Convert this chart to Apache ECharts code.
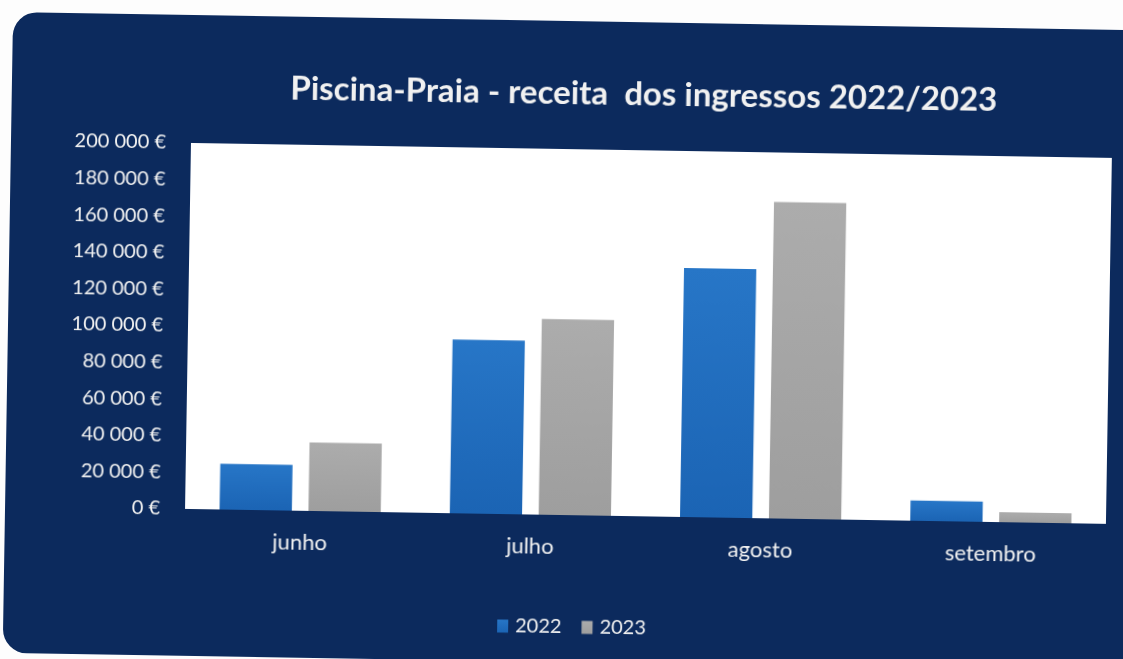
<!DOCTYPE html>
<html>
<head>
<meta charset="utf-8">
<script src="https://cdn.jsdelivr.net/npm/echarts@6/dist/echarts.min.js"></script>
<style>
  html, body { margin: 0; padding: 0; background: #fdfdfd; overflow: hidden; }
  /* the scan is slightly tilted, so the whole card is turned a little */
  .wrap {
    position: absolute; left: 0; top: 0; width: 1123px; height: 659px;
    transform: rotate(0.93deg); transform-origin: 50% 50%;
  }
  .card {
    position: absolute; left: 8px; top: 21px; width: 1150px; height: 641px;
    border-radius: 24px; background: #0c2a5d;
  }
  #chart { position: absolute; left: 0; top: 0; width: 1123px; height: 659px; }
</style>
</head>
<body>
<div class="wrap">
  <div class="card"></div>
  <div id="chart"></div>
</div>
<script>
// months and revenue (EUR)
const months = ['junho', 'julho', 'agosto', 'setembro'];
const seriesNames = ['2022', '2023'];
const revenue2022 = [25000, 95000, 136000, 11000];
const revenue2023 = [37500, 107000, 173000, 5500];
const yTicks = { min: 0, max: 200000, step: 20000 };

const fontName = 'Lato, "Open Sans", sans-serif';
const textColor = '#f1f1f1';

function euro(v) {
  // 200000 -> "200 000 €"
  return String(v).replace(/\B(?=(\d{3})+(?!\d))/g, ' ') + ' €';
}

const chart = echarts.init(document.getElementById('chart'), null, { renderer: 'canvas' });

const option = {
  backgroundColor: 'transparent',
  animation: false,
  title: {
    text: 'Piscina-Praia - receita  dos ingressos 2022/2023',
    left: 640,
    top: 77,
    padding: 0,
    textAlign: 'center',
    textStyle: { color: textColor, fontFamily: fontName, fontWeight: 'bold', fontSize: 33 }
  },
  legend: {
    data: seriesNames,
    left: 497,
    top: 612,
    itemWidth: 11,
    itemHeight: 13,
    itemGap: 20,
    icon: 'rect',
    textStyle: { color: textColor, fontFamily: fontName, fontSize: 20, padding: [0, 0, 0, 2] }
  },
  grid: {
    left: 188,
    right: 14,
    top: 149,
    bottom: 144,
    show: true,
    backgroundColor: '#ffffff',
    borderWidth: 0,
    containLabel: false
  },
  xAxis: {
    type: 'category',
    data: months,
    axisLine: { show: false },
    axisTick: { show: false },
    axisLabel: { color: textColor, fontFamily: fontName, fontSize: 22, margin: 21 }
  },
  yAxis: {
    type: 'value',
    min: yTicks.min,
    max: yTicks.max,
    interval: yTicks.step,
    splitLine: { show: false },
    axisLine: { show: false },
    axisTick: { show: false },
    axisLabel: { color: textColor, fontFamily: fontName, fontSize: 20, margin: 25, formatter: euro }
  },
  series: [
    {
      name: seriesNames[0],
      type: 'bar',
      data: revenue2022,
      barGap: '23%',
      barCategoryGap: '30%',
      itemStyle: {
        color: new echarts.graphic.LinearGradient(0, 0, 0, 1, [
          { offset: 0, color: '#2776c7' },
          { offset: 1, color: '#1b64b4' }
        ])
      }
    },
    {
      name: seriesNames[1],
      type: 'bar',
      data: revenue2023,
      barGap: '23%',
      barCategoryGap: '30%',
      itemStyle: {
        color: new echarts.graphic.LinearGradient(0, 0, 0, 1, [
          { offset: 0, color: '#acacac' },
          { offset: 1, color: '#9e9e9e' }
        ])
      }
    }
  ]
};

chart.setOption(option);
</script>
</body>
</html>
